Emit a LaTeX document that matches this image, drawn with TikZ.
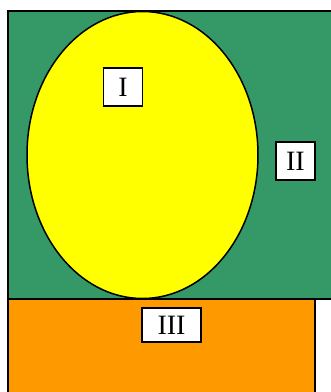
\documentclass[tikz,border=0pt]{standalone}
\usepackage{fontspec}
\setmainfont{Liberation Serif}
\usetikzlibrary{shapes.geometric}
\definecolor{zgreen}{RGB}{53,152,103}
\definecolor{zorange}{RGB}{255,153,0}
\definecolor{zyellow}{RGB}{255,255,0}
\begin{document}
\begin{tikzpicture}[x=1pt,y=-1pt,
  region/.style={draw=black,line width=2pt},
  labelbox/.style={draw=black,fill=white,line width=1.6pt,inner sep=0pt,
    font=\fontsize{28}{30}\selectfont,anchor=center}]
\useasboundingbox (0,0) rectangle (331,392);
\clip (0,0) rectangle (331,392);
\path[region,fill=zgreen] (8,11) rectangle (345,299);
\path[region,fill=zorange] (8,299) rectangle (315,400);
\node[draw=black,fill=zyellow,line width=1.5pt,ellipse,minimum width=231pt,minimum height=287pt,inner sep=0pt] (ell) at (142.5,155) {};
\node[labelbox,minimum width=39pt,minimum height=38pt] (l1) at (123,87) {I};
\node[labelbox,minimum width=39pt,minimum height=38pt] (l2) at (295.5,161) {II};
\node[labelbox,minimum width=59pt,minimum height=34pt] (l3) at (171.5,325) {III};
\end{tikzpicture}
\end{document}
